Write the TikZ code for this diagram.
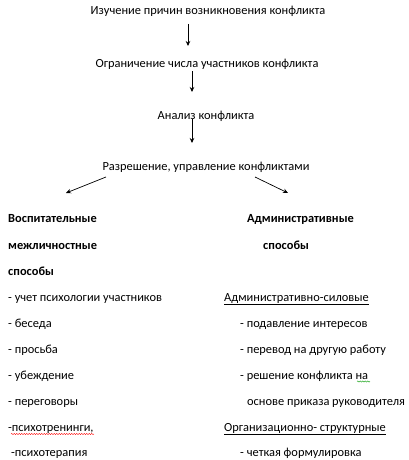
\documentclass[tikz,border=0pt]{standalone}
\usepackage{fontspec}
\setmainfont{Carlito}
\usetikzlibrary{arrows.meta,decorations.pathmorphing}
\begin{document}
\begin{tikzpicture}[x=1pt,y=-1pt,
  txt/.style={inner sep=0pt,font=\fontsize{12.4}{14}\selectfont},
  lft/.style={txt,anchor=base west},
  ctr/.style={txt,anchor=base},
  hd/.style={lft,font=\fontsize{12.4}{14}\selectfont\bfseries},
  arr/.style={-{Stealth[length=5pt,width=4.5pt]},line width=0.7pt},
  squig/.style={decorate,decoration={snake,amplitude=0.6pt,segment length=2.5pt},line width=0.4pt}]
\useasboundingbox (0,0) rectangle (409,460);
% top chain
\node[ctr] (t1) at (208,15) {Изучение причин возникновения конфликта};
\node[ctr] (t2) at (207,67) {Ограничение числа участников конфликта};
\node[ctr] (t3) at (206,119) {Анализ конфликта};
\node[ctr] (t4) at (206,170) {Разрешение, управление конфликтами};
\coordinate (a1s) at (188,24); \coordinate (a1e) at (188,46);
\coordinate (a2s) at (192,71); \coordinate (a2e) at (192,92);
\coordinate (a3s) at (192,119); \coordinate (a3e) at (192,143);
\coordinate (l1) at (106,177); \coordinate (l2) at (66,193);
\coordinate (r1) at (255,177); \coordinate (r2) at (288,193);
\draw[arr] (a1s) -- (a1e);
\draw[arr] (a2s) -- (a2e);
\draw[arr] (a3s) -- (a3e);
\draw[arr] (l1) -- (l2);
\draw[arr] (r1) -- (r2);
% left column
\node[hd] (h1) at (8,222) {Воспитательные};
\node[hd] (h2) at (8,249) {межличностные};
\node[hd] (h3) at (8,275) {способы};
\node[lft] (p1) at (8,301) {- учет психологии участников};
\node[lft] (p2) at (8,327) {- беседа};
\node[lft] (p3) at (8,353) {- просьба};
\node[lft] (p4) at (8,379) {- убеждение};
\node[lft] (p5) at (8,405) {- переговоры};
\node[lft] (p6) at (8,431) {-психотренинги,};
\node[lft] (p7) at (11,456) {-психотерапия};
% right column
\node[hd] (k1) at (247,222) {Административные};
\node[hd] (k2) at (263,249) {способы};
\node[lft] (q1) at (224,301) {\underline{Административно-силовые}};
\node[lft] (q2) at (240,327) {- подавление интересов};
\node[lft] (q3) at (240,353) {- перевод на другую работу};
\node[lft] (q4) at (240,379) {- решение конфликта на};
\node[lft] (q5) at (247,405) {основе приказа руководителя};
\node[lft] (q6) at (224,431) {\underline{Организационно- структурные}};
\node[lft] (q7) at (240,456) {- четкая формулировка};
% spell-check marks
\draw[squig,red] (11,434) -- (94,434);
\draw[squig,green!60!black] (357,381.5) -- (370,381.5);
\end{tikzpicture}
\end{document}
